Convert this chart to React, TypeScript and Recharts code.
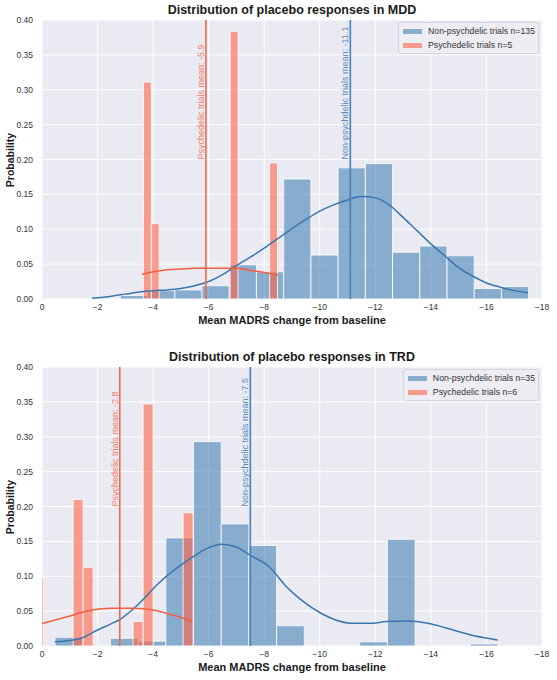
import React from "react";
import {
  ComposedChart,
  XAxis,
  YAxis,
  CartesianGrid,
  Line,
  ReferenceArea,
  ReferenceLine,
} from "recharts";

const FONT = '"Liberation Sans", Arial, Helvetica, sans-serif';
const BLUE = "#4682B4";
const RED = "#FF6347";
const BLUE_LINE = "#3B75AF";
const RED_LINE = "#F2603F";

const xTicks = [0, -2, -4, -6, -8, -10, -12, -14, -16, -18];
const yTicks = [0, 0.05, 0.1, 0.15, 0.2, 0.25, 0.3, 0.35, 0.4];

// MDD, non-psychedelic trials (n=135)
const mddNonStart = -2.82;
const mddNonWidth = 0.98;
const mddNonProb = [
  0.005, 0.012, 0.013, 0.019, 0.049, 0.039, 0.172, 0.063, 0.188, 0.194,
  0.067, 0.076, 0.062, 0.015, 0.018,
];
const mddNonKde = [
  [-1.8, 0.001], [-2.5, 0.004], [-3.0, 0.007], [-3.5, 0.01], [-4.0, 0.012],
  [-4.5, 0.013], [-5.0, 0.015], [-5.5, 0.019], [-6.0, 0.025], [-6.5, 0.035],
  [-7.0, 0.048], [-7.5, 0.06], [-8.0, 0.073], [-8.5, 0.087], [-9.0, 0.101],
  [-9.5, 0.114], [-10.0, 0.126], [-10.5, 0.135], [-11.0, 0.142], [-11.5, 0.147],
  [-12.0, 0.145], [-12.5, 0.135], [-13.0, 0.117], [-13.5, 0.098], [-14.0, 0.079],
  [-14.5, 0.062], [-15.0, 0.045], [-15.5, 0.033], [-16.0, 0.023], [-16.5, 0.017],
  [-17.0, 0.012], [-17.5, 0.009],
];
const mddNonMean = -11.1;

// MDD, psychedelic trials (n=5)
const mddPsyStart = -3.65;
const mddPsyWidth = 0.284;
const mddPsyProb = [0.311, 0.108, 0, 0, 0, 0, 0, 0, 0, 0, 0, 0.384, 0, 0, 0, 0, 0.195];
const mddPsyKde = [
  [-3.6, 0.035], [-4.0, 0.039], [-4.5, 0.042], [-5.0, 0.043], [-5.5, 0.044],
  [-6.0, 0.044], [-6.5, 0.044], [-7.0, 0.044], [-7.5, 0.041], [-8.0, 0.038],
  [-8.5, 0.034],
];
const mddPsyMean = -5.9;

// TRD, non-psychedelic trials (n=35)
const trdNonStart = -0.47;
const trdNonWidth = 0.997;
const trdNonProb = [
  0.0125, 0, 0.011, 0.007, 0.155, 0.293, 0.175, 0.144, 0.029, 0, 0, 0.006,
  0.153, 0, 0, 0.003,
];
const trdNonKde = [
  [-0.46, 0.006], [-1.0, 0.008], [-1.4, 0.011], [-2.0, 0.023], [-2.5, 0.032],
  [-2.8, 0.038], [-3.5, 0.061], [-4.2, 0.09], [-4.9, 0.113], [-5.4, 0.127],
  [-6.0, 0.141], [-6.45, 0.146], [-7.0, 0.142], [-7.5, 0.13], [-8.2, 0.113],
  [-8.8, 0.085], [-9.4, 0.064], [-10.0, 0.048], [-10.6, 0.037], [-11.2, 0.0325],
  [-11.8, 0.0325], [-12.4, 0.035], [-13.2, 0.036], [-13.9, 0.0325], [-14.8, 0.023],
  [-15.6, 0.0143], [-16.4, 0.0086],
];
const trdNonMean = -7.5;

// TRD, psychedelic trials (n=6)
const trdPsyStart = 0.32;
const trdPsyWidth = 0.36;
const trdPsyProb = [0.098, 0, 0, 0, 0.21, 0.113, 0, 0, 0, 0, 0.035, 0.347, 0, 0, 0, 0.191];
const trdPsyKde = [
  [0.0, 0.032], [-0.9, 0.042], [-1.7, 0.0506], [-2.5, 0.054], [-3.3, 0.054],
  [-4.0, 0.0516], [-4.7, 0.0444], [-5.4, 0.0358],
];
const trdPsyMean = -2.8;

const toBins = (start: number, width: number, probs: number[]) =>
  probs
    .map((p, i) => ({ x1: start - i * width, x2: start - (i + 1) * width, p }))
    .filter((b) => b.p > 0);

const toPoints = (pairs: number[][]) => pairs.map(([x, y]) => ({ x, y }));

const fmtX = (v: number) => (v === 0 ? "0" : "\u2212" + Math.abs(v));

const MeanLabel = ({ viewBox, text, color }: any) => {
  if (!viewBox) return null;
  const x = viewBox.x - 2;
  const y = viewBox.y + viewBox.height / 2;
  return (
    <text
      x={x}
      y={y}
      transform={`rotate(-90 ${x} ${y})`}
      fill={color}
      fontSize={9}
      fontFamily={FONT}
      textAnchor="start"
    >
      {text}
    </text>
  );
};

function Panel({
  title,
  nonBins,
  psyBins,
  nonKde,
  psyKde,
  nonMean,
  psyMean,
  nonLabel,
  psyLabel,
  plotTop,
  plotBottom,
}: any) {
  const H = 340;
  const W = 557;
  const plotLeft = 42;
  const plotRight = 542;
  return (
    <div style={{ position: "relative", width: W, height: H, fontFamily: FONT }}>
      <div
        style={{
          position: "absolute",
          left: plotLeft,
          width: plotRight - plotLeft,
          top: plotTop - 17,
          textAlign: "center",
          fontWeight: 700,
          fontSize: 12.5,
          color: "#1a1a1a",
          whiteSpace: "nowrap",
        }}
      >
        {title}
      </div>
      <ComposedChart
        width={W}
        height={H}
        margin={{ top: plotTop, right: W - plotRight, bottom: 0, left: 0 }}
      >
        <CartesianGrid stroke="#ffffff" strokeWidth={1} fill="#EAEAF2" />
        <XAxis
          type="number"
          dataKey="x"
          domain={[-18, 0]}
          reversed
          ticks={xTicks}
          interval={0}
          allowDataOverflow
          axisLine={false}
          tickLine={false}
          tickSize={0}
          tickMargin={5}
          height={H - plotBottom}
          tick={{ fontSize: 8.5, fill: "#333", fontFamily: FONT }}
          tickFormatter={fmtX}
        />
        <YAxis
          type="number"
          domain={[0, 0.4]}
          ticks={yTicks}
          interval={0}
          allowDataOverflow
          axisLine={false}
          tickLine={false}
          tickSize={0}
          tickMargin={9}
          width={plotLeft}
          tick={{ fontSize: 8.5, fill: "#333", fontFamily: FONT }}
          tickFormatter={(v: number) => v.toFixed(2)}
        />
        {nonBins.map((b: any, i: number) => (
          <ReferenceArea
            key={"n" + i}
            x1={b.x1}
            x2={b.x2}
            y1={0}
            y2={b.p}
            fill={BLUE}
            fillOpacity={0.6}
            stroke="#ffffff"
            strokeWidth={0.8}
            ifOverflow="hidden"
          />
        ))}
        {psyBins.map((b: any, i: number) => (
          <ReferenceArea
            key={"p" + i}
            x1={b.x1}
            x2={b.x2}
            y1={0}
            y2={b.p}
            fill={RED}
            fillOpacity={0.6}
            stroke="#ffffff"
            strokeWidth={0.8}
            ifOverflow="hidden"
          />
        ))}
        <Line
          data={nonKde}
          dataKey="y"
          type="monotone"
          stroke={BLUE_LINE}
          strokeWidth={1.5}
          dot={false}
          isAnimationActive={false}
        />
        <Line
          data={psyKde}
          dataKey="y"
          type="monotone"
          stroke={RED_LINE}
          strokeWidth={1.5}
          dot={false}
          isAnimationActive={false}
        />
        <ReferenceLine
          x={psyMean}
          stroke="#F2694F"
          strokeWidth={1.6}
          label={(p: any) => (
            <MeanLabel viewBox={p.viewBox} color="#F07E6A" text={`Psychedelic trials mean: ${psyMean}`} />
          )}
        />
        <ReferenceLine
          x={nonMean}
          stroke="#4A80B8"
          strokeWidth={1.6}
          label={(p: any) => (
            <MeanLabel
              viewBox={p.viewBox}
              color="#5A8CBF"
              text={`Non-psychdelic trials mean: ${nonMean}`}
            />
          )}
        />
      </ComposedChart>
      <div
        style={{
          position: "absolute",
          left: 10,
          top: (plotTop + plotBottom) / 2,
          transform: "translate(-50%, -50%) rotate(-90deg)",
          fontWeight: 700,
          fontSize: 10.5,
          color: "#1a1a1a",
          whiteSpace: "nowrap",
        }}
      >
        Probability
      </div>
      <div
        style={{
          position: "absolute",
          left: plotLeft,
          width: plotRight - plotLeft,
          top: plotBottom + 15,
          textAlign: "center",
          fontWeight: 700,
          fontSize: 11,
          color: "#1a1a1a",
          whiteSpace: "nowrap",
        }}
      >
        Mean MADRS change from baseline
      </div>
      <div
        style={{
          position: "absolute",
          right: W - plotRight + 3,
          top: plotTop + 2,
          padding: "1px 3px 1px 4px",
          background: "#EDEDF3",
          border: "1px solid #D4D4DC",
          borderRadius: 3,
          fontSize: 8.7,
          color: "#333",
          lineHeight: "14px",
        }}
      >
        {[
          { label: nonLabel, color: BLUE },
          { label: psyLabel, color: RED },
        ].map((it) => (
          <div key={it.label} style={{ display: "flex", alignItems: "center", whiteSpace: "nowrap" }}>
            <span
              style={{
                display: "inline-block",
                width: 19,
                height: 5,
                background: it.color,
                opacity: 0.6,
                marginRight: 6,
              }}
            />
            {it.label}
          </div>
        ))}
      </div>
    </div>
  );
}

export default function App() {
  return (
    <div style={{ position: "absolute", left: 0, top: 0, width: 557, height: 680, background: "#fff" }}>
      <Panel
        title="Distribution of placebo responses in MDD"
        nonBins={toBins(mddNonStart, mddNonWidth, mddNonProb)}
        psyBins={toBins(mddPsyStart, mddPsyWidth, mddPsyProb)}
        nonKde={toPoints(mddNonKde)}
        psyKde={toPoints(mddPsyKde)}
        nonMean={mddNonMean}
        psyMean={mddPsyMean}
        nonLabel="Non-psychdelic trials n=135"
        psyLabel="Psychedelic trials n=5"
        plotTop={20}
        plotBottom={299}
      />
      <Panel
        title="Distribution of placebo responses in TRD"
        nonBins={toBins(trdNonStart, trdNonWidth, trdNonProb)}
        psyBins={toBins(trdPsyStart, trdPsyWidth, trdPsyProb)}
        nonKde={toPoints(trdNonKde)}
        psyKde={toPoints(trdPsyKde)}
        nonMean={trdNonMean}
        psyMean={trdPsyMean}
        nonLabel="Non-psychdelic trials n=35"
        psyLabel="Psychedelic trials n=6"
        plotTop={27}
        plotBottom={306}
      />
    </div>
  );
}
